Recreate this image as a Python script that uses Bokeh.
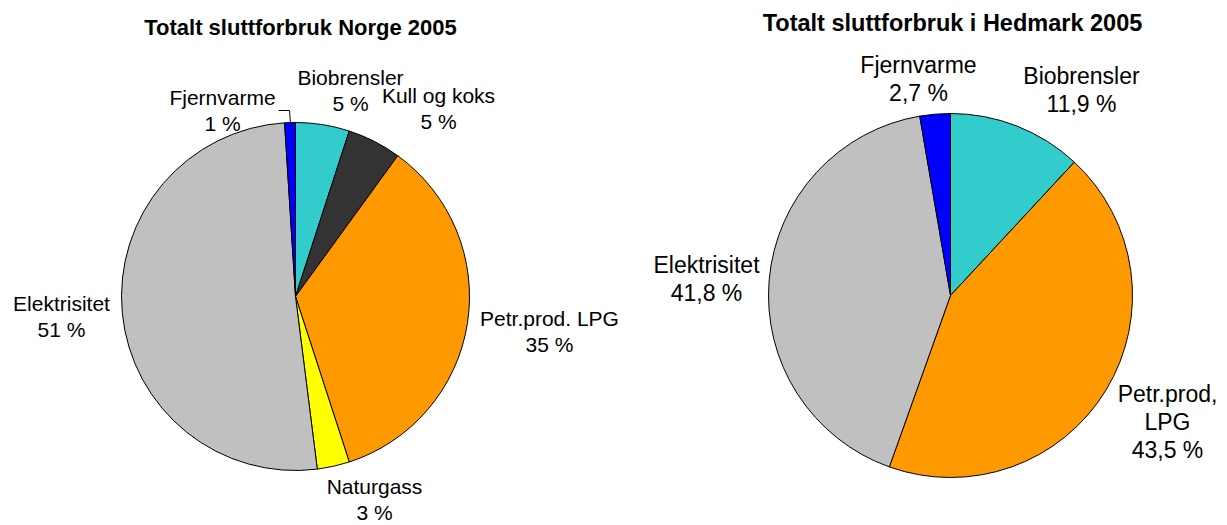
from bokeh.plotting import figure
from bokeh.layouts import row
from bokeh.models import Range1d
from bokeh.core.properties import value
from bokeh.embed import file_html
from bokeh.resources import INLINE
import math

# ---- data ----
norge_title = "Totalt sluttforbruk Norge 2005"
norge_categories = ["Biobrensler", "Kull og koks", "Petr.prod. LPG", "Naturgass", "Elektrisitet", "Fjernvarme"]
norge_values = [5, 5, 35, 3, 51, 1]
norge_colors = ["#33CCCC", "#333333", "#FF9900", "#FFFF00", "#C0C0C0", "#0000FF"]

hedmark_title = "Totalt sluttforbruk i Hedmark 2005"
hedmark_categories = ["Biobrensler", "Petr.prod, LPG", "Elektrisitet", "Fjernvarme"]
hedmark_values = [11.9, 43.5, 41.8, 2.7]
hedmark_colors = ["#33CCCC", "#FF9900", "#C0C0C0", "#0000FF"]

FONT = "Liberation Sans"


def fmt(v):
    if float(v).is_integer():
        return f"{int(v)} %"
    return f"{v:.1f}".replace(".", ",") + " %"


def make_pie(title, cats, vals, colors, w, h, cx, cy, radius, label_pos, title_pos,
             split_lines, font_px, title_px, line_gap):
    p = figure(width=w, height=h, output_backend="svg", toolbar_location=None,
               x_range=Range1d(-cx, w - cx), y_range=Range1d(-(h - cy), cy),
               min_border=0, outline_line_color=None)
    p.axis.visible = False
    p.grid.visible = False
    total = sum(vals)
    cum = 0.0
    starts, ends = [], []
    for v in vals:
        a0 = math.pi / 2 - 2 * math.pi * (cum + v) / total
        a1 = math.pi / 2 - 2 * math.pi * cum / total
        starts.append(a0)
        ends.append(a1)
        cum += v
    p.wedge(x=0, y=0, radius=radius, start_angle=starts, end_angle=ends,
            fill_color=colors, line_color="black", line_width=1)
    xs, ys, ts = [], [], []
    for c, v, (lx, ly) in zip(cats, vals, label_pos):
        lines = (c.replace(", ", ",\n") if split_lines else c).split("\n") + [fmt(v)]
        for i, t in enumerate(lines):
            xs.append(lx - cx)
            ys.append(cy - (ly + line_gap * i))
            ts.append(t)
    p.text(x=xs, y=ys, text=ts, text_align="center", text_baseline="middle",
           text_font=value(FONT), text_font_size=f"{font_px}px", text_color="black")
    p.text(x=[title_pos[0] - cx], y=[cy - title_pos[1]], text=[title], text_align="center",
           text_baseline="middle", text_font=value(FONT), text_font_size=f"{title_px}px",
           text_font_style="bold", text_color="black")
    return p


# figure-local pixel positions (left figure at x 0..618, right at 618..1227)
W1, W2, H = 618, 609, 525
left_label_pos = [(350, 77), (438, 95), (549, 318), (374, 486), (61, 303), (222, 97)]
p1 = make_pie(norge_title, norge_categories, norge_values, norge_colors,
              W1, H, 295, 296, 174, left_label_pos, (300, 27), False, 21, 22, 26)
p1.line(x=[-17, -6, -5], y=[186, 186, 172], line_color="black", line_width=1)

right_label_pos = [(463, 75), (549, 393), (88, 264), (300, 64)]
p2 = make_pie(hedmark_title, hedmark_categories, hedmark_values, hedmark_colors,
              W2, H, 332, 295, 182, right_label_pos, (334, 22), True, 23, 23.5, 28)

layout = row(p1, p2)
open("out.html", "w").write(file_html(layout, INLINE))
